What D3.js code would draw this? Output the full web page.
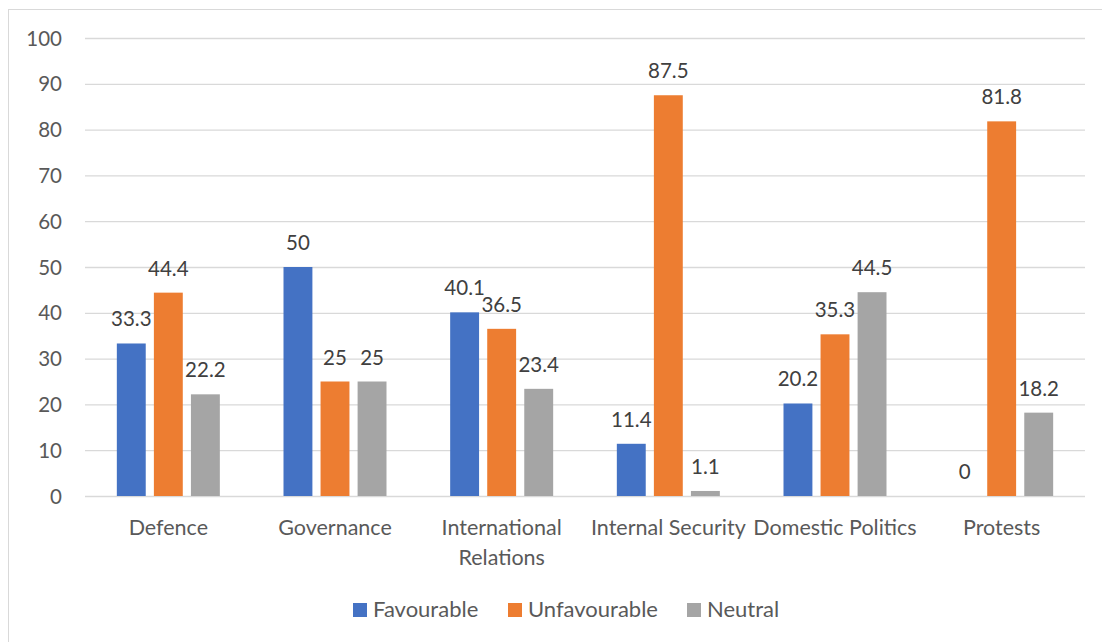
<!DOCTYPE html>
<html>
<head>
<meta charset="utf-8">
<script src="https://cdn.jsdelivr.net/npm/d3@7"></script>
<style>
  html, body { margin: 0; padding: 0; background: #fff; }
  svg { display: block; }
  text { font-family: Lato, "Open Sans", sans-serif; }
</style>
</head>
<body>
<svg id="chart" width="1102" height="642"></svg>
<script>
// Topics and sentiment shares (percent)
const categories = ["Defence", "Governance", "International Relations", "Internal Security", "Domestic Politics", "Protests"];
const seriesNames = ["Favourable", "Unfavourable", "Neutral"];
const favourable   = [33.3, 50, 40.1, 11.4, 20.2, 0];
const unfavourable = [44.4, 25, 36.5, 87.5, 35.3, 81.8];
const neutral      = [22.2, 25, 23.4, 1.1, 44.5, 18.2];
const yTicks = [0, 10, 20, 30, 40, 50, 60, 70, 80, 90, 100];
const colors = ["#4472C4", "#ED7D31", "#A5A5A5"];

const seriesValues = [favourable, unfavourable, neutral];
const rows = categories.map((c, i) => ({
  category: c,
  values: seriesNames.map((s, j) => ({ series: s, value: seriesValues[j][i], color: colors[j] }))
}));

const svg = d3.select("#chart");
const plot = { left: 85, right: 1085, top: 38, bottom: 496 };

// Outer frame
svg.append("rect")
  .attr("x", 8.5).attr("y", 9.5)
  .attr("width", 1110).attr("height", 660)
  .attr("fill", "none").attr("stroke", "#d9d9d9").attr("stroke-width", 1);

const y = d3.scaleLinear().domain([0, 100]).range([plot.bottom, plot.top]);
const x0 = d3.scaleBand().domain(categories).range([plot.left, plot.right]).padding(0);
const groupWidth = 103;
const x1 = d3.scaleBand().domain(seriesNames).range([0, groupWidth]).paddingInner(0.22);
const groupOffset = (x0.bandwidth() - groupWidth) / 2;

// Gridlines and value axis labels
const yAxis = d3.axisLeft(y).tickValues(yTicks).tickSize(-(plot.right - plot.left)).tickPadding(23);
const yg = svg.append("g").attr("transform", `translate(${plot.left},0)`).call(yAxis);
yg.select(".domain").remove();
yg.selectAll(".tick line").attr("stroke", "#d9d9d9").attr("stroke-width", 1.3);
yg.selectAll(".tick text")
  .attr("fill", "#595959").style("font-size", "20.5px").attr("dy", "0.35em");

// Bars
const groups = svg.append("g").selectAll("g").data(rows).join("g")
  .attr("transform", d => `translate(${x0(d.category) + groupOffset},0)`);

groups.selectAll("rect").data(d => d.values).join("rect")
  .attr("x", d => x1(d.series))
  .attr("width", x1.bandwidth())
  .attr("y", d => y(d.value))
  .attr("height", d => y(0) - y(d.value))
  .attr("fill", d => d.color);

// Value labels
groups.selectAll("text.val").data(d => d.values).join("text")
  .attr("class", "val")
  .attr("x", d => x1(d.series) + x1.bandwidth() / 2)
  .attr("y", d => y(d.value) - 17)
  .attr("text-anchor", "middle")
  .attr("fill", "#404040")
  .style("font-size", "20.5px")
  .text(d => d.value);

// Category axis labels, wrapped when wider than the band
const xAxis = d3.axisBottom(x0).tickSize(0).tickPadding(0);
const xg = svg.append("g").attr("transform", `translate(0,${plot.bottom})`).call(xAxis);
xg.select(".domain").remove();
xg.selectAll(".tick text")
  .attr("fill", "#595959").style("font-size", "21.5px")
  .attr("y", 39).attr("dy", 0)
  .each(function(d) {
    const t = d3.select(this);
    if (this.getComputedTextLength() > x0.bandwidth() + 6) {
      const words = d.split(" ");
      t.text(null);
      words.forEach((w, i) => {
        t.append("tspan").attr("x", 0).attr("y", 39 + i * 30).text(w);
      });
    }
  });

// Legend
const legendX = [353, 508, 687];
const legend = svg.append("g").selectAll("g").data(seriesNames).join("g")
  .attr("transform", (d, i) => `translate(${legendX[i]},603)`);
legend.append("rect").attr("width", 14).attr("height", 14).attr("fill", (d, i) => colors[i]);
legend.append("text").attr("x", 20).attr("y", 14)
  .attr("fill", "#595959").style("font-size", "22px").text(d => d);
</script>
</body>
</html>
